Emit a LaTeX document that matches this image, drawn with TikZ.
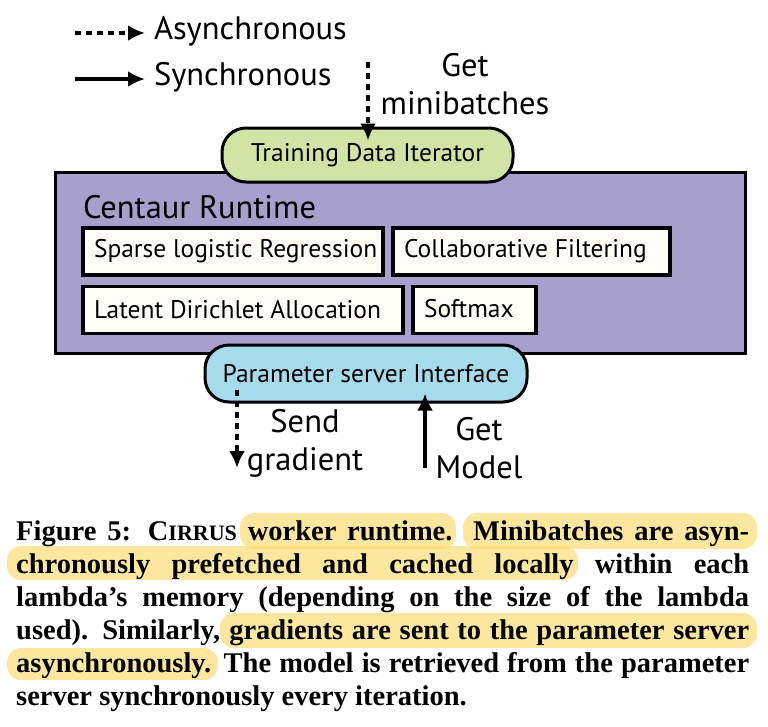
\documentclass[tikz,border=0pt]{standalone}
\usepackage{fontspec}
\setmainfont{Liberation Serif}
\setsansfont{PT Sans}
\usetikzlibrary{arrows.meta, calc}
\definecolor{iterfill}{RGB}{210,228,165}
\definecolor{psfill}{RGB}{166,219,236}
\definecolor{runfill}{RGB}{168,160,204}
\definecolor{algofill}{RGB}{254,254,246}
\definecolor{hlfill}{RGB}{252,212,80}
\newcommand{\diagfont}{\sffamily\fontsize{32.5}{38}\selectfont}
\newcommand{\boxfont}{\sffamily\fontsize{25.5}{30}\selectfont}
\newcommand{\capfont}{\rmfamily\bfseries\fontsize{28.5}{33}\selectfont}
\newcommand{\cirrus}{C{\fontsize{22}{33}\selectfont IRRUS}}
\tikzset{
  asyncarrow/.style={line width=4pt, dash pattern=on 6pt off 5pt, -{Latex[length=17pt, width=16pt]}},
  syncarrow/.style={line width=4pt, -{Latex[length=17pt, width=16pt]}},
  lbl/.style={font=\diagfont, align=center, inner sep=0pt, outer sep=0pt},
  pill/.style={draw, line width=3pt, rounded corners=24pt, font=\boxfont, inner sep=0pt},
  algo/.style={draw, line width=3.5pt, fill=algofill, minimum height=47pt, inner xsep=11pt, font=\boxfont},
  hl/.style={fill=hlfill, fill opacity=0.55, rounded corners=14pt},
  capline/.style={font=\capfont, anchor=base west, inner sep=0pt},
}
\begin{document}
\begin{tikzpicture}[x=1pt, y=-1pt]
  \useasboundingbox (0,0) rectangle (768,726);
  % legend
  \coordinate (asyncTail) at (75,33);
  \node[lbl, anchor=west, inner xsep=9pt] (asyncTxt) at (145,31) {Asynchronous};
  \draw[asyncarrow] (asyncTail) -- (asyncTxt.west |- asyncTail);
  \coordinate (syncTail) at (75,79);
  \node[lbl, anchor=west, inner xsep=9pt] (syncTxt) at (145,77) {Synchronous};
  \draw[syncarrow] (syncTail) -- (syncTxt.west |- syncTail);
  % runtime
  \node[draw, line width=3pt, fill=runfill, minimum width=690pt, minimum height=181pt] (runtime) at (400,262.5) {};
  \node[lbl, anchor=base west] (rtTitle) at (83,218) {Centaur Runtime};
  \node[algo] (slr) at (233,251.5) {\makebox[278pt][l]{Sparse logistic Regression}};
  \node[algo] (cf) at (531.5,251.5) {\makebox[255pt][l]{Collaborative Filtering}};
  \node[algo] (lda) at (243,310) {\makebox[298pt][l]{Latent Dirichlet Allocation}};
  \node[algo] (smax) at (474.5,310) {\makebox[101pt][l]{\raisebox{4pt}{Softmax}}};
  % iterator and parameter server
  \node[pill, fill=iterfill, minimum width=291pt, minimum height=54pt] (tdi) at (367.5,155) {Training Data Iterator};
  \node[pill, fill=psfill, minimum width=322pt, minimum height=57pt] (psi) at (366,373.5) {Parameter server Interface};
  % minibatches
  \coordinate (mbSrc) at (368,62);
  \draw[asyncarrow] (mbSrc) -- ($(tdi.north -| mbSrc)+(0,14)$);
  \node[lbl] (mbLbl) at (465,84) {Get\\minibatches};
  % gradient and model
  \coordinate (gradEnd) at (237,468);
  \draw[asyncarrow] ($(psi.south -| gradEnd)+(0,-14)$) -- (gradEnd);
  \node[lbl] (gradLbl) at (305,443) {Send\\gradient};
  \coordinate (modelSrc) at (425,468);
  \draw[syncarrow] (modelSrc) -- ($(psi.south -| modelSrc)+(0,-10)$);
  \node[lbl] (modelLbl) at (479,448) {Get\\Model};
  % caption highlights
  \fill[hl] (240,513) rectangle (456,549);
  \fill[hl] (463,513) rectangle (757,549);
  \fill[hl] (7,546) rectangle (578,580);
  \fill[hl] (220,613) rectangle (757,648);
  \fill[hl] (7,648) rectangle (218,680);
  % caption
  \node[capline] (cap1) at (16,540) {\makebox[733pt][s]{Figure 5: \cirrus{} worker runtime. Minibatches are asyn-}};
  \node[capline] (cap2) at (16,573) {\makebox[733pt][s]{chronously prefetched and cached locally within each}};
  \node[capline] (cap3) at (16,606) {\makebox[733pt][s]{lambda’s memory (depending on the size of the lambda}};
  \node[capline] (cap4) at (16,639) {\makebox[733pt][s]{used). Similarly, gradients are sent to the parameter server}};
  \node[capline] (cap5) at (16,672) {\makebox[733pt][s]{asynchronously. The model is retrieved from the parameter}};
  \node[capline] (cap6) at (16,705) {server synchronously every iteration.};
\end{tikzpicture}
\end{document}
